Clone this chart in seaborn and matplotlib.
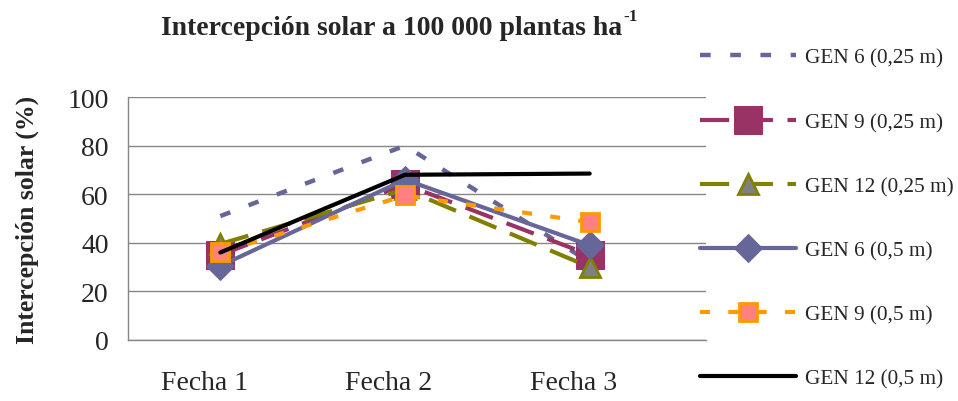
import matplotlib
matplotlib.use("Agg")
import matplotlib.pyplot as plt
import matplotlib.transforms as mtransforms
import seaborn as sns

# data
fechas = ["Fecha 1", "Fecha 2", "Fecha 3"]
gen6_025 = [51, 80, 32]
gen9_025 = [35, 64, 35]
gen12_025 = [39.5, 62, 30]
gen6_05 = [30.5, 66, 39]
gen9_05 = [36, 59.5, 48.5]
gen12_05 = [36, 68, 68.5]
labels = ["GEN 6 (0,25 m)", "GEN 9 (0,25 m)", "GEN 12 (0,25 m)",
          "GEN 6 (0,5 m)", "GEN 9 (0,5 m)", "GEN 12 (0,5 m)"]
y_ticks = [0, 20, 40, 60, 80, 100]

sns.set_theme(style="white")
plt.rcParams['font.family'] = ['Liberation Serif', 'DejaVu Serif']

styles = [
    dict(color="#666699", linestyle=(0, (2.4, 4.4)), linewidth=3.2),
    dict(color="#993366", linestyle=(0, (7, 3.5)), linewidth=3, marker="s",
         markersize=20, markerfacecolor="#993366", markeredgecolor="#993366"),
    dict(color="#808000", linestyle=(0, (7, 3.5)), linewidth=3, marker="^",
         markersize=15, markerfacecolor="#808080", markeredgecolor="#808000",
         markeredgewidth=2),
    dict(color="#666699", linestyle="-", linewidth=3, marker="D",
         markersize=14, markerfacecolor="#666699", markeredgecolor="#666699"),
    dict(color="#FF9900", linestyle=(0, (2.4, 4.4)), linewidth=3, marker="s",
         markersize=13, markerfacecolor="#FF8080", markeredgecolor="#FF9900",
         markeredgewidth=2),
    dict(color="#000000", linestyle="-", linewidth=3),
]
series = [gen6_025, gen9_025, gen12_025, gen6_05, gen9_05, gen12_05]

fig = plt.figure(figsize=(9.58, 4.02), dpi=100)
ax = fig.add_axes([0.1336, 0.152, 0.6034, 0.604])

xs = list(range(len(fechas)))
for vals, lab, st in zip(series, labels, styles):
    sns.lineplot(x=xs, y=vals, ax=ax, label=lab, **st)

ax.set_xlim(-0.5, 2.63)
ax.set_ylim(0, 100)
ax.set_yticks(y_ticks)
ax.set_xticks(xs)
ax.set_xticklabels(fechas)
ax.tick_params(axis="y", labelsize=20, length=0, pad=14)
ax.tick_params(axis="x", labelsize=20, length=0, pad=22)
offset = mtransforms.ScaledTranslation(-16 / 100, 0, fig.dpi_scale_trans)
for t in ax.get_xticklabels():
    t.set_transform(t.get_transform() + offset)

ax.grid(axis="y", color="#868686", linewidth=1)
ax.grid(axis="x", visible=False)
for side in ["top", "right"]:
    ax.spines[side].set_visible(False)
for side in ["left", "bottom"]:
    ax.spines[side].set_color("#868686")
    ax.spines[side].set_linewidth(1)

# title with a plain "-1" superscript
title = fig.text(0.168, 0.93, "Intercepción solar a 100 000 plantas ha",
                 ha="left", va="center", fontsize=20, fontweight="bold")
renderer = fig.canvas.get_renderer()
bb = title.get_window_extent(renderer)
fig.text(bb.x1 / fig.bbox.width + 0.001, 0.957, "-1",
         ha="left", va="center", fontsize=12.5, fontweight="bold")

fig.text(0.028, 0.453, "Intercepción solar (%)", rotation=90,
         ha="center", va="center", fontsize=18.5, fontweight="bold")

ax.legend(loc="upper left", bbox_to_anchor=(0.731, 0.878),
          bbox_transform=fig.transFigure, frameon=False, fontsize=15.3,
          handlelength=4.5, handletextpad=0.45, labelspacing=2.08,
          borderaxespad=0, borderpad=0)

fig.savefig("out.png", dpi=100)
